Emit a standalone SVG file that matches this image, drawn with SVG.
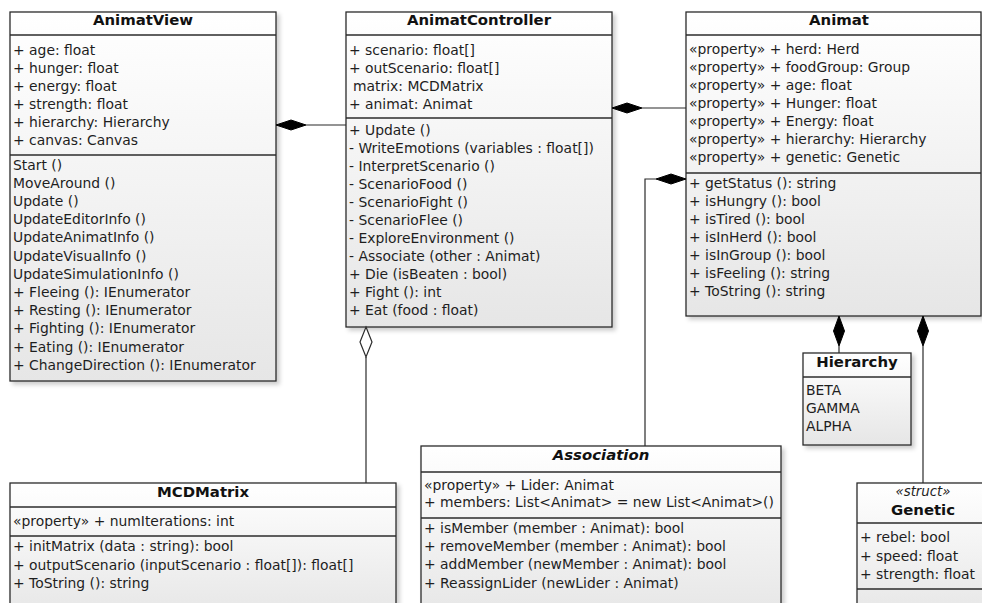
<svg xmlns="http://www.w3.org/2000/svg" width="982" height="603" viewBox="0 0 982 603">
<style>
.box{fill:url(#g);stroke:#2b2b2b;stroke-width:1.3}
.sep{stroke:#2b2b2b;stroke-width:1.3}
.t{font-family:"DejaVu Sans",Verdana,sans-serif;font-size:13.9px;fill:#1e1e1e}
.title{font-family:"DejaVu Sans",Verdana,sans-serif;font-size:14.9px;font-weight:bold;fill:#111;text-anchor:middle}
.it{font-style:italic}
.st{font-family:"DejaVu Sans",Verdana,sans-serif;font-size:13.3px;font-style:italic;fill:#1e1e1e;text-anchor:middle}
.ln{fill:none;stroke:#2b2b2b;stroke-width:1.2}
.fd{fill:#000;stroke:#000;stroke-width:1}
.hd{fill:#fff;stroke:#2b2b2b;stroke-width:1.2}
</style>
<defs>
<linearGradient id="g" x1="0" y1="0" x2="0" y2="1">
<stop offset="0" stop-color="#ffffff"/>
<stop offset="1" stop-color="#e6e6e6"/>
</linearGradient>
<filter id="sh" x="-5%" y="-5%" width="115%" height="115%">
<feDropShadow dx="3" dy="3" stdDeviation="2" flood-color="#000" flood-opacity="0.2"/>
</filter>
</defs>
<rect width="982" height="603" fill="#fff"/>

<g id="AnimatView">
<rect class="box" x="10" y="12" width="266" height="369" filter="url(#sh)"/>
<line class="sep" x1="10" y1="35" x2="276" y2="35"/>
<line class="sep" x1="10" y1="155" x2="276" y2="155"/>
<text class="title" x="143" y="25">AnimatView</text>
<text class="t" x="13" y="54.5">+ age: float</text>
<text class="t" x="13" y="72.5">+ hunger: float</text>
<text class="t" x="13" y="90.5">+ energy: float</text>
<text class="t" x="13" y="108.5">+ strength: float</text>
<text class="t" x="13" y="126.5">+ hierarchy: Hierarchy</text>
<text class="t" x="13" y="144.5">+ canvas: Canvas</text>
<text class="t" x="13" y="169.5">Start ()</text>
<text class="t" x="13" y="187.7">MoveAround ()</text>
<text class="t" x="13" y="205.9">Update ()</text>
<text class="t" x="13" y="224.1">UpdateEditorInfo ()</text>
<text class="t" x="13" y="242.3">UpdateAnimatInfo ()</text>
<text class="t" x="13" y="260.5">UpdateVisualInfo ()</text>
<text class="t" x="13" y="278.7">UpdateSimulationInfo ()</text>
<text class="t" x="13" y="296.9">+ Fleeing (): IEnumerator</text>
<text class="t" x="13" y="315.1">+ Resting (): IEnumerator</text>
<text class="t" x="13" y="333.3">+ Fighting (): IEnumerator</text>
<text class="t" x="13" y="351.5">+ Eating (): IEnumerator</text>
<text class="t" x="13" y="369.7">+ ChangeDirection (): IEnumerator</text>
</g>

<g id="AnimatController">
<rect class="box" x="346" y="12" width="266" height="315" filter="url(#sh)"/>
<line class="sep" x1="346" y1="35" x2="612" y2="35"/>
<line class="sep" x1="346" y1="118" x2="612" y2="118"/>
<text class="title" x="479" y="25">AnimatController</text>
<text class="t" x="349" y="54.5">+ scenario: float[]</text>
<text class="t" x="349" y="72.5">+ outScenario: float[]</text>
<text class="t" x="353" y="90.5">matrix: MCDMatrix</text>
<text class="t" x="349" y="108.5">+ animat: Animat</text>
<text class="t" x="349" y="134.5">+ Update ()</text>
<text class="t" x="349" y="152.5">- WriteEmotions (variables : float[])</text>
<text class="t" x="349" y="170.5">- InterpretScenario ()</text>
<text class="t" x="349" y="188.5">- ScenarioFood ()</text>
<text class="t" x="349" y="206.5">- ScenarioFight ()</text>
<text class="t" x="349" y="224.5">- ScenarioFlee ()</text>
<text class="t" x="349" y="242.5">- ExploreEnvironment ()</text>
<text class="t" x="349" y="260.5">- Associate (other : Animat)</text>
<text class="t" x="349" y="278.5">+ Die (isBeaten : bool)</text>
<text class="t" x="349" y="296.5">+ Fight (): int</text>
<text class="t" x="349" y="314.5">+ Eat (food : float)</text>
</g>

<g id="Animat">
<rect class="box" x="686" y="12" width="295" height="304" filter="url(#sh)"/>
<line class="sep" x1="686" y1="35" x2="981" y2="35"/>
<line class="sep" x1="686" y1="173" x2="981" y2="173"/>
<text class="title" x="839" y="25">Animat</text>
<text class="t" x="689" y="54">«property» + herd: Herd</text>
<text class="t" x="689" y="72">«property» + foodGroup: Group</text>
<text class="t" x="689" y="90">«property» + age: float</text>
<text class="t" x="689" y="108">«property» + Hunger: float</text>
<text class="t" x="689" y="126">«property» + Energy: float</text>
<text class="t" x="689" y="144">«property» + hierarchy: Hierarchy</text>
<text class="t" x="689" y="162">«property» + genetic: Genetic</text>
<text class="t" x="689" y="187.5">+ getStatus (): string</text>
<text class="t" x="689" y="205.5">+ isHungry (): bool</text>
<text class="t" x="689" y="223.5">+ isTired (): bool</text>
<text class="t" x="689" y="241.5">+ isInHerd (): bool</text>
<text class="t" x="689" y="259.5">+ isInGroup (): bool</text>
<text class="t" x="689" y="277.5">+ isFeeling (): string</text>
<text class="t" x="689" y="295.5">+ ToString (): string</text>
</g>

<g id="Hierarchy">
<rect class="box" x="803" y="353" width="108" height="92" filter="url(#sh)"/>
<line class="sep" x1="803" y1="377" x2="911" y2="377"/>
<text class="title" x="857" y="366.5">Hierarchy</text>
<text class="t" x="806" y="395">BETA</text>
<text class="t" x="806" y="413">GAMMA</text>
<text class="t" x="806" y="431">ALPHA</text>
</g>

<g id="Genetic">
<rect class="box" x="857" y="483" width="140" height="135" filter="url(#sh)"/>
<line class="sep" x1="857" y1="523" x2="997" y2="523"/>
<line class="sep" x1="857" y1="589" x2="997" y2="589"/>
<text class="st" x="923" y="495.5">«struct»</text>
<text class="title" x="923" y="515">Genetic</text>
<text class="t" x="860" y="542">+ rebel: bool</text>
<text class="t" x="860" y="560.5">+ speed: float</text>
<text class="t" x="860" y="578.5">+ strength: float</text>
</g>

<g id="MCDMatrix">
<rect class="box" x="10" y="483" width="386" height="135" filter="url(#sh)"/>
<line class="sep" x1="10" y1="507" x2="396" y2="507"/>
<line class="sep" x1="10" y1="536" x2="396" y2="536"/>
<text class="title" x="203" y="496.5">MCDMatrix</text>
<text class="t" x="13" y="526">«property» + numIterations: int</text>
<text class="t" x="13" y="551">+ initMatrix (data : string): bool</text>
<text class="t" x="13" y="569.5">+ outputScenario (inputScenario : float[]): float[]</text>
<text class="t" x="13" y="587.5">+ ToString (): string</text>
</g>

<g id="Association">
<rect class="box" x="421" y="446" width="360" height="172" filter="url(#sh)"/>
<line class="sep" x1="421" y1="472" x2="781" y2="472"/>
<line class="sep" x1="421" y1="518" x2="781" y2="518"/>
<text class="title it" x="601" y="460">Association</text>
<text class="t" x="424" y="489.5">«property» + Lider: Animat</text>
<text class="t" x="424" y="506.5">+ members: List&lt;Animat&gt; = new List&lt;Animat&gt;()</text>
<text class="t" x="424" y="533">+ isMember (member : Animat): bool</text>
<text class="t" x="424" y="551">+ removeMember (member : Animat): bool</text>
<text class="t" x="424" y="569">+ addMember (newMember : Animat): bool</text>
<text class="t" x="424" y="587.5">+ ReassignLider (newLider : Animat)</text>
</g>

<g id="connectors">
<line class="ln" x1="306" y1="125" x2="346" y2="125"/>
<polygon class="fd" points="276,125 291,120 306,125 291,130"/>
<line class="ln" x1="642" y1="108" x2="686" y2="108"/>
<polygon class="fd" points="612,108 627,103 642,108 627,113"/>
<polyline class="ln" points="656,179 645,179 645,446"/>
<polygon class="fd" points="686,179 671,174 656,179 671,184"/>
<line class="ln" x1="366" y1="357" x2="366" y2="483"/>
<polygon class="hd" points="366,327 372,342 366,357 360,342"/>
<line class="ln" x1="839" y1="346" x2="839" y2="353"/>
<polygon class="fd" points="839,316 844.5,331 839,346 833.5,331"/>
<line class="ln" x1="923" y1="346" x2="923" y2="483"/>
<polygon class="fd" points="923,316 928.5,331 923,346 917.5,331"/>
</g>
</svg>
